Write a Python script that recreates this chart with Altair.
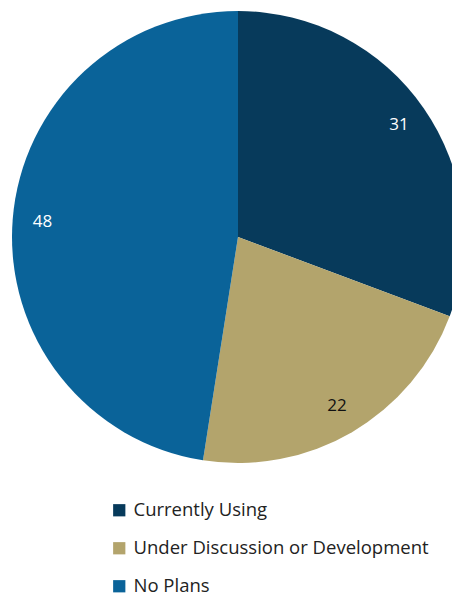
import altair as alt
import pandas as pd

categories = ["Currently Using", "Under Discussion or Development", "No Plans"]
values = [31, 22, 48]
colors = ["#073a5b", "#b3a46c", "#0a6399"]

df = pd.DataFrame({"category": categories, "value": values, "order": [0, 1, 2]})

FONT = "Open Sans"

base = alt.Chart(df).encode(
    theta=alt.Theta("value:Q", stack=True),
    order=alt.Order("order:Q"),
)

pie = base.mark_arc(radius=226, stroke=None).encode(
    x=alt.value(238),
    y=alt.value(237),
    color=alt.Color(
        "category:N",
        scale=alt.Scale(domain=categories, range=colors),
        sort=categories,
        legend=alt.Legend(
            title=None,
            orient="none",
            legendX=110,
            legendY=501,
            symbolType="square",
            symbolSize=150,
            symbolStrokeWidth=0,
            labelFont=FONT,
            labelFontSize=18.5,
            labelColor="#222222",
            labelLimit=400,
            rowPadding=19,
            labelOffset=5,
            symbolOffset=0,
        ),
    ),
)

labels = base.mark_text(radius=196, font=FONT, fontSize=17).encode(
    x=alt.value(238),
    y=alt.value(237),
    text=alt.Text("value:Q"),
    color=alt.condition(
        "datum.category === 'Under Discussion or Development'",
        alt.value("#111111"),
        alt.value("#ffffff"),
    ),
)

chart = (
    alt.layer(pie, labels)
    .properties(width=452, height=597, autosize=alt.AutoSizeParams(type="none"), padding=0)
    .configure_view(stroke=None)
)

chart.save("out.html", embed_options={"renderer": "svg", "actions": False})
